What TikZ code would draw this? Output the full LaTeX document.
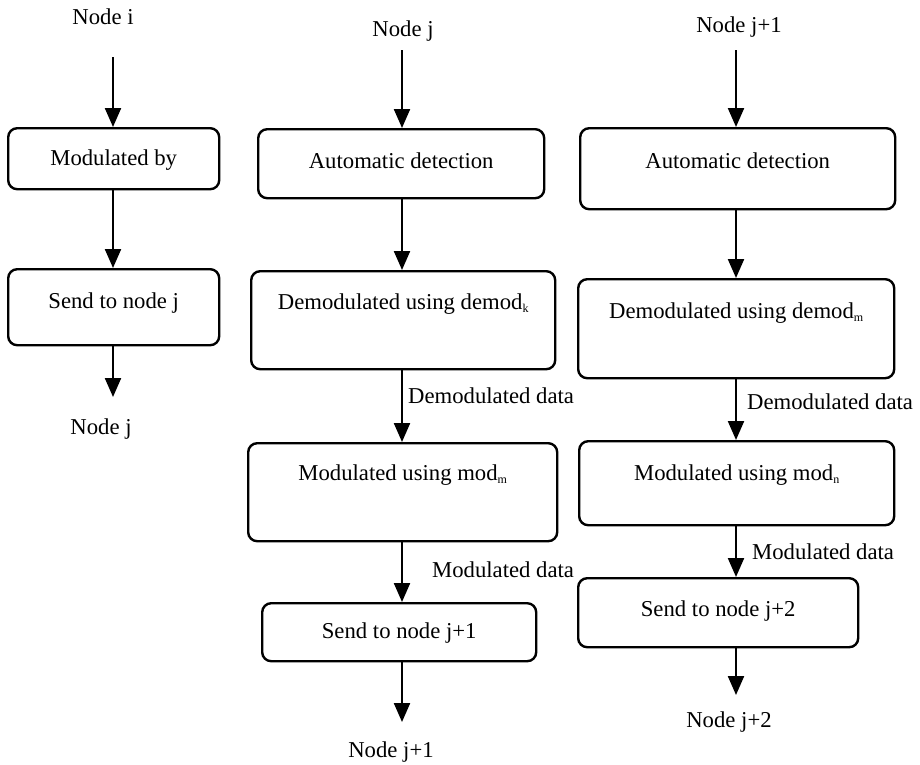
\documentclass[tikz,border=0pt]{standalone}
\usepackage{fontspec}
\setmainfont{Liberation Serif}
\usetikzlibrary{arrows.meta}
\newcommand\subtxt[1]{\raisebox{-3pt}{\fontsize{12}{12}\selectfont #1}}
\begin{document}
\begin{tikzpicture}[x=1pt,y=-1pt,
  txt/.style={font=\fontsize{22.7}{27}\selectfont},
  box/.style={txt, draw, line width=2.4pt, rounded corners=9pt, inner xsep=0pt, inner ysep=0pt, anchor=north west, align=center},
  lbl/.style={txt, inner sep=0pt, anchor=base},
  lblw/.style={txt, inner sep=0pt, anchor=base west},
  arr/.style={line width=2.2pt, -{Triangle[width=16pt,length=19pt]}}]
\useasboundingbox (0,0) rectangle (920,764);

% x positions of the arrow columns
\coordinate (x1) at (113,0);
\coordinate (x2) at (402,0);
\coordinate (x3) at (736,0);

% column 1
\node[lbl] (ni) at (103,24) {Node i};
\coordinate (s1) at (113,57);
\node[box, minimum width=211pt, text height=37.5pt, text depth=23.5pt] (c1a) at (7,127) {Modulated by};
\node[box, minimum width=211pt, text height=39pt, text depth=37pt] (c1b) at (7,268) {Send to node j};
\coordinate (e1) at (113,397);
\node[lbl] (nj1) at (101,434) {Node j};

% column 2
\node[lbl] (nj) at (403,36) {Node j};
\coordinate (s2) at (402,50);
\node[box, minimum width=286pt, text height=39pt, text depth=30pt] (c2a) at (257,128) {Automatic detection};
\node[box, minimum width=304pt, text height=38pt, text depth=60pt] (c2b) at (250,270) {Demodulated using demod\subtxt{k}};
\node[box, minimum width=309pt, text height=37pt, text depth=61pt] (c2c) at (247,442) {Modulated using mod\subtxt{m}};
\node[box, minimum width=274pt, text height=35pt, text depth=23pt] (c2d) at (261,602) {Send to node j+1};
\coordinate (e2) at (402,722);
\node[lbl] (njp1) at (391,757) {Node j+1};
\node[lblw] (l2a) at (408,403) {Demodulated data};
\node[lblw] (l2b) at (432,577) {Modulated data};

% column 3
\node[lbl] (njq1) at (739,32) {Node j+1};
\coordinate (s3) at (736,50);
\node[box, minimum width=315pt, text height=40pt, text depth=41pt] (c3a) at (579,127) {Automatic detection};
\node[box, minimum width=316pt, text height=39pt, text depth=60pt] (c3b) at (577,278) {Demodulated using demod\subtxt{m}};
\node[box, minimum width=315pt, text height=39pt, text depth=45pt] (c3c) at (578,440) {Modulated using mod\subtxt{n}};
\node[box, minimum width=280pt, text height=38pt, text depth=31pt] (c3d) at (577,577) {Send to node j+2};
\coordinate (e3) at (736,695);
\node[lbl] (njp2) at (729,727) {Node j+2};
\node[lblw] (l3a) at (747,409) {Demodulated data};
\node[lblw] (l3b) at (752,559) {Modulated data};

% connectors
\draw[arr] (s1) -- (c1a.north -| x1);
\draw[arr] (c1a.south -| x1) -- (c1b.north -| x1);
\draw[arr] (c1b.south -| x1) -- (e1);

\draw[arr] (s2) -- (c2a.north -| x2);
\draw[arr] (c2a.south -| x2) -- (c2b.north -| x2);
\draw[arr] (c2b.south -| x2) -- (c2c.north -| x2);
\draw[arr] (c2c.south -| x2) -- (c2d.north -| x2);
\draw[arr] (c2d.south -| x2) -- (e2);

\draw[arr] (s3) -- (c3a.north -| x3);
\draw[arr] (c3a.south -| x3) -- (c3b.north -| x3);
\draw[arr] (c3b.south -| x3) -- (c3c.north -| x3);
\draw[arr] (c3c.south -| x3) -- (c3d.north -| x3);
\draw[arr] (c3d.south -| x3) -- (e3);
\end{tikzpicture}
\end{document}
